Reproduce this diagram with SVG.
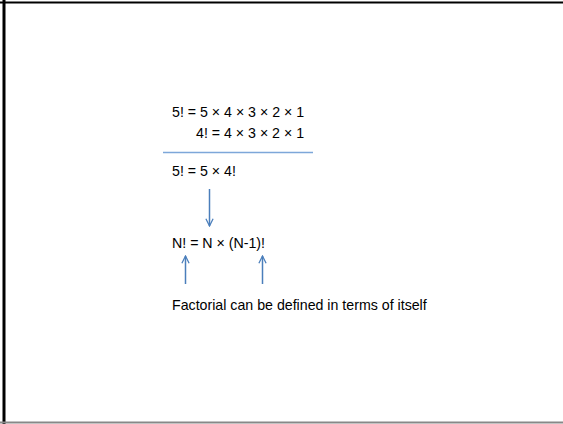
<svg xmlns="http://www.w3.org/2000/svg" width="563" height="424" viewBox="0 0 563 424">
<style>
text{font-family:"Liberation Sans",Arial,sans-serif;font-size:14.2px;fill:#000}
.c{stroke:#4A7EBB;stroke-width:1.5;fill:none}
</style>
<defs>
<marker id="ah" viewBox="0 0 10 10" refX="9" refY="5" markerWidth="9" markerHeight="9" markerUnits="userSpaceOnUse" orient="auto">
<path d="M1,1 L9,5 L1,9" fill="none" stroke="#4A7EBB" stroke-width="1.4"/>
</marker>
</defs>
<rect x="0" y="0" width="563" height="424" fill="#fff"/>
<line x1="4" y1="0" x2="4" y2="424" stroke="#000" stroke-width="3"/>
<line x1="0" y1="2.5" x2="563" y2="2.5" stroke="#000" stroke-width="2"/>
<line x1="0" y1="422.5" x2="563" y2="422.5" stroke="#888" stroke-width="2"/>
<g id="eq1"><text x="172" y="117">5! = 5 × 4 × 3 × 2 × 1</text></g>
<g id="eq2"><text x="196" y="138">4! = 4 × 3 × 2 × 1</text></g>
<g id="eq3"><text x="172" y="176">5! = 5 × 4!</text></g>
<g id="eq4"><text x="172" y="248">N! = N × (N-1)!</text></g>
<g id="note"><text x="172" y="310">Factorial can be defined in terms of itself</text></g>
<g id="connectors">
<line x1="163" y1="152.5" x2="313" y2="152.5" stroke="#7DA7D9" stroke-width="1.3"/>
<line class="c" x1="209.5" y1="189" x2="209.5" y2="226" marker-end="url(#ah)"/>
<line class="c" x1="185.5" y1="284" x2="185.5" y2="256" marker-end="url(#ah)"/>
<line class="c" x1="262.5" y1="284" x2="262.5" y2="256" marker-end="url(#ah)"/>
</g>
</svg>
